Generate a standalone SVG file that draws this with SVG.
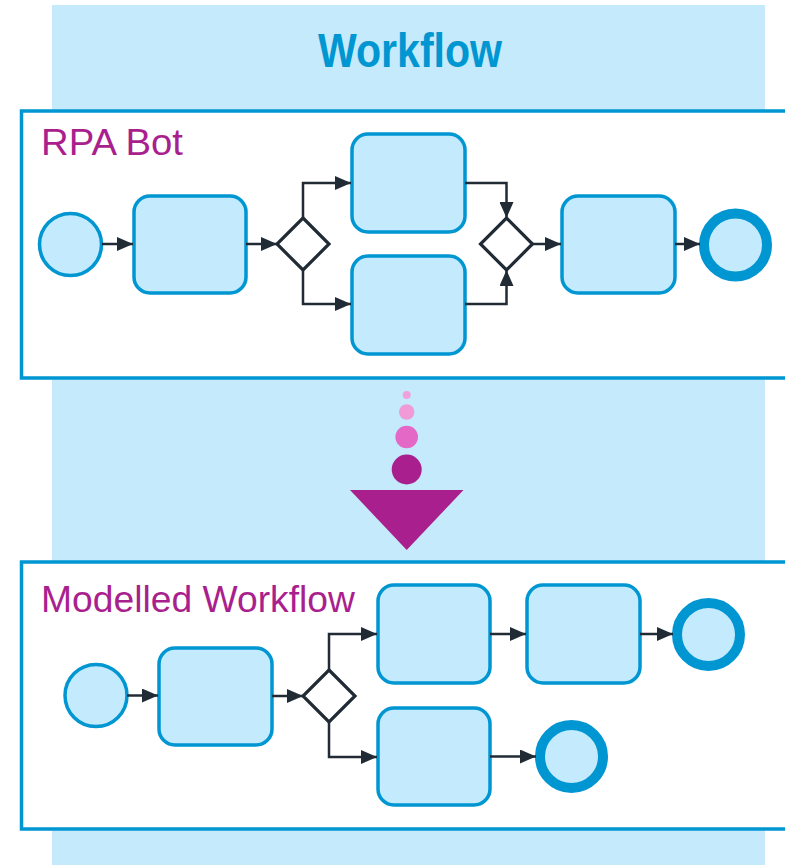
<svg xmlns="http://www.w3.org/2000/svg" width="785" height="865" viewBox="0 0 785 865">
  <style>
    .pool { fill: #ffffff; stroke: #0096d2; stroke-width: 3.5; }
    .task { fill: #c4ebfd; stroke: #0096d2; stroke-width: 3.5; }
    .start { fill: #c4ebfd; stroke: #0096d2; stroke-width: 3.5; }
    .end { fill: #c4ebfd; stroke: #0096d2; stroke-width: 10; }
    .gw { fill: #ffffff; stroke: #212b36; stroke-width: 3.2; stroke-linejoin: miter; }
    .flow { fill: none; stroke: #212b36; stroke-width: 2.5; marker-end: url(#arrow); }
    .label { font-family: "Liberation Sans", Arial, sans-serif; font-size: 37.5px; fill: #aa1f8e; }
    .title { font-family: "Liberation Sans", Arial, sans-serif; font-size: 48px; font-weight: bold; fill: #0096d2; }
  </style>
  <defs>
    <marker id="arrow" markerUnits="userSpaceOnUse" markerWidth="16" markerHeight="14" refX="16" refY="7" orient="auto">
      <path d="M0,0 L16,7 L0,14 z" fill="#212b36"/>
    </marker>
  </defs>

  <rect id="background" x="52" y="5" width="713" height="860" fill="#c4eafc"/>
  <text id="title" class="title" x="318" y="67" textLength="184" lengthAdjust="spacingAndGlyphs">Workflow</text>

  <g id="pool-rpa">
    <rect class="pool" x="21.5" y="111" width="770" height="267"/>
    <text class="label" x="41" y="155" textLength="142" lengthAdjust="spacingAndGlyphs">RPA Bot</text>
  </g>

  <g id="pool-modelled">
    <rect class="pool" x="21.5" y="562" width="770" height="267"/>
    <text class="label" x="41" y="612" textLength="314" lengthAdjust="spacingAndGlyphs">Modelled Workflow</text>
  </g>

  <g id="transform-arrow">
    <circle cx="406.7" cy="395" r="4" fill="#f0a0dc"/>
    <circle cx="406.7" cy="412" r="7.7" fill="#f09ad8"/>
    <circle cx="406.7" cy="437" r="11.3" fill="#e468c6"/>
    <circle cx="406.7" cy="469.5" r="15" fill="#aa1f8e"/>
    <polygon points="350,490 463.5,490 406.7,550" fill="#aa1f8e"/>
  </g>

  <!-- RPA Bot nodes -->
  <g id="rpa-start"><circle class="start" cx="70.5" cy="244.5" r="31"/></g>
  <g id="rpa-task1"><rect class="task" x="134" y="196" width="112" height="97" rx="16"/></g>
  <g id="rpa-gw1"><polygon class="gw" points="303,218 329,244 303,270 277,244"/></g>
  <g id="rpa-task2"><rect class="task" x="352" y="134" width="113" height="98" rx="16"/></g>
  <g id="rpa-task3"><rect class="task" x="352" y="256" width="113" height="98" rx="16"/></g>
  <g id="rpa-gw2"><polygon class="gw" points="506.5,218 532.5,244 506.5,270 480.5,244"/></g>
  <g id="rpa-task4"><rect class="task" x="562" y="196" width="113" height="97" rx="16"/></g>
  <g id="rpa-end"><circle class="end" cx="735.5" cy="245" r="31.5"/></g>

  <!-- Modelled nodes -->
  <g id="mod-start"><circle class="start" cx="96" cy="695.5" r="31"/></g>
  <g id="mod-task1"><rect class="task" x="159" y="648" width="113" height="97" rx="16"/></g>
  <g id="mod-gw1"><polygon class="gw" points="329,670 355,696 329,722 303,696"/></g>
  <g id="mod-task2"><rect class="task" x="378" y="585" width="112" height="98" rx="16"/></g>
  <g id="mod-task3"><rect class="task" x="378" y="708" width="112" height="97" rx="16"/></g>
  <g id="mod-task4"><rect class="task" x="527" y="585" width="113" height="98" rx="16"/></g>
  <g id="mod-end1"><circle class="end" cx="708.5" cy="634.5" r="31.5"/></g>
  <g id="mod-end2"><circle class="end" cx="571.5" cy="756.5" r="31.5"/></g>

  <g id="connectors">
    <path class="flow" d="M102,244 H133"/>
    <path class="flow" d="M246,244 H277"/>
    <path class="flow" d="M303,218 V183 H351"/>
    <path class="flow" d="M303,270 V304 H351"/>
    <path class="flow" d="M465,183 H506.5 V218"/>
    <path class="flow" d="M465,304 H506.5 V270"/>
    <path class="flow" d="M532.5,244 H561"/>
    <path class="flow" d="M675,244 H700"/>

    <path class="flow" d="M127,695.5 H158"/>
    <path class="flow" d="M272,696 H303"/>
    <path class="flow" d="M329,670 V634 H377"/>
    <path class="flow" d="M329,722 V757 H377"/>
    <path class="flow" d="M490,634 H526"/>
    <path class="flow" d="M640,634 H673"/>
    <path class="flow" d="M490,756.5 H536"/>
  </g>
</svg>
